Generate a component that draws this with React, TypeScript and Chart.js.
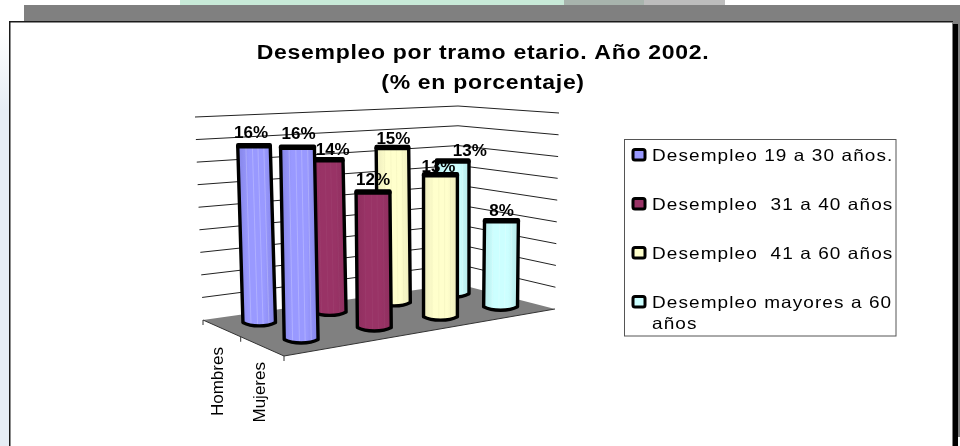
import React, { useEffect, useRef } from "react";
import { Chart, registerables } from "chart.js";

Chart.register(...registerables);

const titleLines = ["Desempleo por tramo etario. Año 2002.", "(% en porcentaje)"];
const rowLabels = ["Hombres", "Mujeres"];
const seriesLabels = ["Desempleo 19 a 30 años.", "Desempleo  31 a 40 años", "Desempleo  41 a 60 años", "Desempleo mayores a 60 años"];
const legendWrap = [["Desempleo 19 a 30 años."], ["Desempleo  31 a 40 años"], ["Desempleo  41 a 60 años"], ["Desempleo mayores a 60", "años"]];
const values1930 = [15.65, 16.45];
const values3140 = [13.9, 11.9];
const values4160 = [14.6, 12.8];
const valuesMayores = [12.9, 8.0];
const seriesValues = [values1930, values3140, values4160, valuesMayores];
const seriesColors = ["#9999FF", "#993366", "#FFFFCC", "#CCFFFF"];
const sideColors = ["#8484e6", "#8f2f5f", "#ecebbc", "#b6e8e8"];
const stripeColors = ["rgba(255,255,255,0.22)", "rgba(255,255,255,0.04)", "rgba(200,200,150,0.12)", "rgba(255,255,255,0.2)"];
const yMax = 18;
const yStep = 2;

// Oblique view of the floor and walls: pixel corners A (back-left), B (front-left), C (front-right), D (back)
const view = {
  A: [203, 320], B: [284, 356], C: [555, 309], D: [458, 284],
  hA: 203, hB: 217, hC: 196, hD: 178,
  leanA: -8, leanB: -4, leanC: 4, leanD: 0,
};
// label offsets from the top of each cylinder, [dx, baseline gap], by series then row
const labelNudge = [
  [[-3, 8], [1, 8]],
  [[6, 4], [0, 7]],
  [[1, 3], [-2, 3]],
  [[17, 5], [0, 4]],
];

function makeHomography() {
  const { A, B, C, D } = view;
  const [x0, y0] = A, [x1, y1] = D, [x2, y2] = C, [x3, y3] = B;
  const dx1 = x1 - x2, dx2 = x3 - x2, sx = x0 - x1 + x2 - x3;
  const dy1 = y1 - y2, dy2 = y3 - y2, sy = y0 - y1 + y2 - y3;
  const det = dx1 * dy2 - dx2 * dy1;
  const g = (sx * dy2 - dx2 * sy) / det;
  const h = (dx1 * sy - sx * dy1) / det;
  const a = x1 - x0 + g * x1, b = x3 - x0 + h * x3;
  const d = y1 - y0 + g * y1, e = y3 - y0 + h * y3;
  return (u: number, v: number) => {
    const q = g * u + h * v + 1;
    return [(a * u + b * v + x0) / q, (d * u + e * v + y0) / q];
  };
}
const floorAt = makeHomography();
const bilinear = (u: number, v: number, a: number, b: number, c: number, d: number) =>
  a * (1 - u) * (1 - v) + b * (1 - u) * v + c * u * v + d * u * (1 - v);
function project(u: number, v: number, w: number) {
  const [x, y] = floorAt(u, v);
  const h = bilinear(u, v, view.hA, view.hB, view.hC, view.hD);
  const lean = bilinear(u, v, view.leanA, view.leanB, view.leanC, view.leanD);
  return { x: x + lean * w, y: y - h * w, bx: x, by: y };
}

function drawCylinder(ctx: CanvasRenderingContext2D, xl: number, xr: number, xlb: number, xrb: number, yt: number, yb: number, color: string, side: string, stripe: string) {
  const ry = 3.5;
  const grad = ctx.createLinearGradient(Math.min(xl, xlb), 0, Math.max(xr, xrb), 0);
  grad.addColorStop(0, side);
  grad.addColorStop(0.3, color);
  grad.addColorStop(0.7, color);
  grad.addColorStop(1, side);
  ctx.beginPath();
  ctx.moveTo(xl, yt);
  ctx.lineTo(xlb, yb);
  ctx.bezierCurveTo(xlb + (xrb - xlb) * 0.25, yb + ry * 1.3, xlb + (xrb - xlb) * 0.75, yb + ry * 1.3, xrb, yb);
  ctx.lineTo(xr, yt);
  ctx.closePath();
  ctx.fillStyle = grad;
  ctx.fill();
  ctx.save();
  ctx.clip();
  ctx.strokeStyle = stripe;
  ctx.lineWidth = 1;
  for (const f of [0.25, 0.45, 0.62, 0.8]) {
    ctx.beginPath();
    ctx.moveTo(xl + (xr - xl) * f, yt);
    ctx.lineTo(xlb + (xrb - xlb) * f, yb + ry);
    ctx.stroke();
  }
  ctx.restore();
  ctx.strokeStyle = "#000";
  ctx.lineWidth = 3.4;
  ctx.lineJoin = "round";
  ctx.beginPath();
  ctx.moveTo(xl, yt);
  ctx.lineTo(xlb, yb);
  ctx.bezierCurveTo(xlb + (xrb - xlb) * 0.25, yb + ry * 1.3, xlb + (xrb - xlb) * 0.75, yb + ry * 1.3, xrb, yb);
  ctx.lineTo(xr, yt);
  ctx.stroke();
  ctx.beginPath();
  ctx.roundRect(xl - 1.7, yt - 2.5, xr - xl + 3.4, 5.5, 2);
  ctx.fillStyle = "#000";
  ctx.fill();
}

const scenePlugin = {
  id: "scene",
  beforeDraw(chart: any) {
    const ctx: CanvasRenderingContext2D = chart.ctx;
    ctx.save();
    ctx.fillStyle = "#ffffff";
    ctx.fillRect(0, 0, 960, 446);
    const pale = ctx.createLinearGradient(0, 30, 0, 110);
    pale.addColorStop(0, "#ffffff");
    pale.addColorStop(1, "#e6edf5");
    ctx.fillStyle = pale;
    ctx.fillRect(0, 22, 10, 424);
    ctx.fillStyle = "#c8ead8";
    ctx.fillRect(180, 0, 384, 6);
    ctx.fillStyle = "#a8b4ad";
    ctx.fillRect(564, 0, 80, 6);
    ctx.fillStyle = "#bdbdbd";
    ctx.fillRect(644, 0, 81, 6);
    ctx.fillStyle = "#808080";
    ctx.fillRect(24, 5, 936, 17);
    ctx.fillRect(953, 22, 7, 415);
    ctx.fillStyle = "#000000";
    ctx.fillRect(953, 24, 5, 422);
    ctx.fillStyle = "#ffffff";
    ctx.fillRect(10, 22, 943, 424);
    ctx.fillStyle = "#1a1a1a";
    ctx.fillRect(9, 21, 944, 1.5);
    ctx.fillRect(9, 21, 1.5, 425);
    ctx.fillStyle = "#808080";
    ctx.fillRect(952, 22, 1, 424);
    ctx.restore();
    // the title is drawn by the library next: widen it a little about its centre
    ctx.letterSpacing = "0.6px";
    ctx.translate(483, 0);
    ctx.scale(1.15, 1);
    ctx.translate(-483, 0);
  },
  beforeDatasetsDraw(chart: any) {
    const ctx: CanvasRenderingContext2D = chart.ctx;
    ctx.setTransform(1, 0, 0, 1, 0, 0);
    ctx.letterSpacing = "0px";
    const yScale = chart.scales.y;
    // floor
    ctx.save();
    const pts = [[0, 0], [0, 1], [1, 1], [1, 0]].map(([u, v]) => floorAt(u, v));
    ctx.beginPath();
    pts.forEach(([x, y], i) => (i ? ctx.lineTo(x, y) : ctx.moveTo(x, y)));
    ctx.closePath();
    ctx.fillStyle = "#808080";
    ctx.fill();
    // walls: one line per value-axis tick
    ctx.strokeStyle = "#222";
    ctx.lineWidth = 1;
    for (let val = yStep; val <= yMax; val += yStep) {
      const w = (yScale.bottom - yScale.getPixelForValue(val)) / (yScale.bottom - yScale.top);
      const p0 = project(0, 0, w), p1 = project(1, 0, w), p2 = project(1, 1, w);
      ctx.beginPath();
      ctx.moveTo(p0.x, p0.y);
      ctx.lineTo(p1.x, p1.y);
      ctx.lineTo(p2.x, p2.y);
      ctx.stroke();
    }
    // front edges and ticks
    ctx.strokeStyle = "#333";
    ctx.beginPath();
    ctx.moveTo(pts[0][0], pts[0][1]);
    ctx.lineTo(pts[1][0], pts[1][1]);
    ctx.lineTo(pts[2][0], pts[2][1]);
    ctx.stroke();
    const n = rowLabels.length;
    for (let j = 0; j <= n; j++) {
      const [x, y] = floorAt(0, j / n);
      ctx.beginPath();
      ctx.moveTo(x, y);
      ctx.lineTo(x, y + 5);
      ctx.stroke();
    }
    // row labels
    ctx.fillStyle = "#000";
    ctx.font = '17px "Liberation Sans", Arial, sans-serif';
    ctx.textAlign = "right";
    ctx.textBaseline = "middle";
    rowLabels.forEach((label, j) => {
      const [x, y] = floorAt(0, (j + 0.5) / n);
      ctx.save();
      ctx.translate(x - 3 + j * 2, y + 19 - j * 3);
      ctx.rotate(-Math.PI / 2);
      ctx.fillText(label, 0, 0);
      ctx.restore();
    });
    ctx.restore();
  },
  beforeDatasetDraw() {
    return false;
  },
  afterDatasetsDraw(chart: any) {
    const ctx: CanvasRenderingContext2D = chart.ctx;
    const { left, right } = chart.chartArea;
    const W = right - left;
    const yScale = chart.scales.y;
    const n = rowLabels.length;
    ctx.save();
    for (let j = 0; j < n; j++) {
      chart.data.datasets.forEach((ds: any, i: number) => {
        const el = chart.getDatasetMeta(i).data[j];
        const t = ((el.x - left) / W) * n;
        const u = t - Math.floor(t);
        const v = (Math.floor(t) + 0.5) / n;
        const w = (yScale.bottom - el.y) / (yScale.bottom - yScale.top);
        const topC = project(u, v, w);
        const baseC = project(u, v, 0);
        const half = el.width * 0.29 * (0.96 + 0.08 * v);
        drawCylinder(ctx, topC.x - half, topC.x + half, baseC.x - half, baseC.x + half, topC.y, baseC.y, seriesColors[i], sideColors[i], stripeColors[i]);
        ctx.fillStyle = "#000";
        ctx.font = 'bold 17px "Liberation Sans", Arial, sans-serif';
        ctx.textAlign = "center";
        ctx.textBaseline = "alphabetic";
        const [dx, gap] = labelNudge[i][j];
        ctx.fillText(Math.round(ds.data[j]) + "%", topC.x + dx, topC.y - gap);
      });
    }
    ctx.restore();
    // legend
    ctx.save();
    const L = { x: 624.5, y: 139.5, w: 271.5, h: 196.5, rowH: 49, swatchX: 633, textX: 652, firstBaseline: 161, wrapLine: 21, stretch: 1.15 };
    ctx.strokeStyle = "#555";
    ctx.lineWidth = 1;
    ctx.strokeRect(L.x, L.y, L.w, L.h);
    ctx.font = '16.5px "Liberation Sans", Arial, sans-serif';
    ctx.letterSpacing = "0.95px";
    ctx.textAlign = "left";
    ctx.textBaseline = "alphabetic";
    legendWrap.forEach((lines, i) => {
      const base = L.firstBaseline + i * L.rowH;
      ctx.beginPath();
      ctx.roundRect(L.swatchX, base - 11.5, 12, 10.5, 2);
      ctx.fillStyle = seriesColors[i];
      ctx.fill();
      ctx.strokeStyle = "#000";
      ctx.lineWidth = 3;
      ctx.stroke();
      ctx.fillStyle = "#000";
      lines.forEach((line, k) => {
        ctx.save();
        ctx.translate(L.textX, base + k * L.wrapLine);
        ctx.scale(L.stretch, 1);
        ctx.fillText(line, 0, 0);
        ctx.restore();
      });
    });
    ctx.letterSpacing = "0px";
    ctx.restore();
  },
};

export default function App() {
  const ref = useRef<HTMLCanvasElement>(null);
  useEffect(() => {
    const chart = new Chart(ref.current!, {
      type: "bar",
      data: {
        labels: rowLabels,
        datasets: seriesLabels.map((label, i) => ({
          label,
          data: seriesValues[i],
          backgroundColor: seriesColors[i],
          barPercentage: 0.48,
          categoryPercentage: 1,
        })),
      },
      options: {
        responsive: false,
        animation: false,
        layout: { padding: { left: 6, right: 0, top: 0, bottom: 0 } },
        scales: {
          x: { display: false },
          y: { display: false, min: 0, max: yMax, ticks: { stepSize: yStep } },
        },
        plugins: {
          legend: { display: false },
          tooltip: { enabled: false },
          title: {
            display: true,
            text: titleLines,
            color: "#000",
            font: { family: '"Liberation Sans", Arial, sans-serif', size: 20, weight: "bold", lineHeight: 1.5 },
            padding: { top: 38, bottom: 6 },
          },
        },
      },
      plugins: [scenePlugin],
    } as any);
    return () => chart.destroy();
  }, []);
  return (
    <div style={{ position: "fixed", left: 0, top: 0, width: 960, height: 446, overflow: "hidden" }}>
      <canvas ref={ref} width={960} height={446} style={{ display: "block", width: 960, height: 446 }} />
    </div>
  );
}
